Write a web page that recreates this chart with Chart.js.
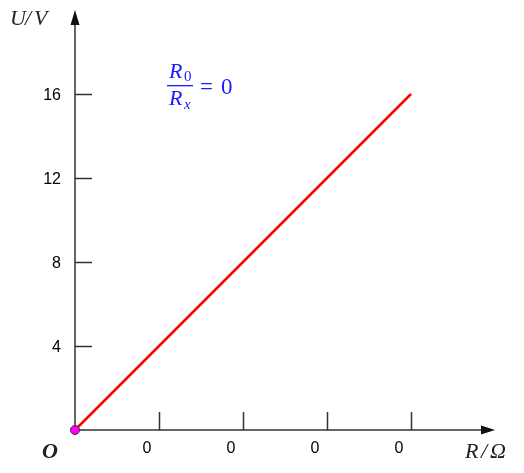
<!DOCTYPE html>
<html>
<head>
<meta charset="utf-8">
<script src="https://cdn.jsdelivr.net/npm/chart.js@4.4.1/dist/chart.umd.min.js"></script>
<style>
  html, body { margin: 0; padding: 0; background: #fff; }
  #wrap { width: 524px; height: 473px; }
</style>
</head>
<body>
<div id="wrap"><canvas id="chart"></canvas></div>
<script>
// values
const lineX = [0, 4];
const lineY = [0, 16];
const originPoint = [0, 0];
const xTickValues = [1, 2, 3, 4];
const xTickLabels = ["0", "0", "0", "0"];
const yTickValues = [4, 8, 12, 16];
const yTickLabels = ["4", "8", "12", "16"];

const axisColor = "#333";

// draws the arrow axes, inner ticks and all the texts
const axesPlugin = {
  id: "axes",
  beforeDatasetsDraw(chart) {
    const ctx = chart.ctx;
    const xs = chart.scales.x;
    const ys = chart.scales.y;
    const ox = xs.getPixelForValue(0);
    const oy = ys.getPixelForValue(0);
    const xEnd = xs.getPixelForValue(xs.max);
    const yEnd = ys.getPixelForValue(ys.max);

    ctx.save();
    ctx.strokeStyle = axisColor;
    ctx.fillStyle = axisColor;
    ctx.lineWidth = 1.5;

    // axes
    ctx.beginPath();
    ctx.moveTo(ox, oy);
    ctx.lineTo(xEnd - 10, oy);
    ctx.moveTo(ox, oy);
    ctx.lineTo(ox, yEnd + 10);
    ctx.stroke();

    // arrow heads
    ctx.fillStyle = "#111";
    ctx.beginPath();
    ctx.moveTo(xEnd, oy);
    ctx.lineTo(xEnd - 14, oy - 4.5);
    ctx.lineTo(xEnd - 14, oy + 4.5);
    ctx.closePath();
    ctx.fill();
    ctx.beginPath();
    ctx.moveTo(ox, yEnd);
    ctx.lineTo(ox - 4.5, yEnd + 15);
    ctx.lineTo(ox + 4.5, yEnd + 15);
    ctx.closePath();
    ctx.fill();

    // ticks
    ctx.lineWidth = 1.5;
    ctx.beginPath();
    xTickValues.forEach((v) => {
      const px = Math.round(xs.getPixelForValue(v)) + 0.5;
      ctx.moveTo(px, oy);
      ctx.lineTo(px, oy - 18);
    });
    yTickValues.forEach((v) => {
      const py = Math.round(ys.getPixelForValue(v)) + 0.5;
      ctx.moveTo(ox, py);
      ctx.lineTo(ox + 17, py);
    });
    ctx.stroke();

    // tick labels
    ctx.fillStyle = "#000";
    ctx.font = "16px 'Liberation Sans', Arial, sans-serif";
    ctx.textBaseline = "middle";
    ctx.textAlign = "center";
    xTickValues.forEach((v, i) => {
      ctx.fillText(xTickLabels[i], xs.getPixelForValue(v) - 12, oy + 19);
    });
    ctx.textAlign = "right";
    yTickValues.forEach((v, i) => {
      ctx.fillText(yTickLabels[i], ox - 14, ys.getPixelForValue(v) + 2);
    });

    // axis titles
    ctx.textBaseline = "alphabetic";
    ctx.textAlign = "left";
    ctx.fillStyle = "#222";
    ctx.font = "italic 22px 'Liberation Serif', 'DejaVu Serif', serif";
    ctx.fillText("U", 10, 25);
    ctx.fillText("/", 25, 25);
    ctx.fillText("V", 34, 25);
    ctx.fillText("R", 465, 458);
    ctx.fillText("/", 481, 458);
    ctx.fillText("\u03A9", 490, 458);
    ctx.font = "bold italic 22px 'Liberation Serif', 'DejaVu Serif', serif";
    ctx.fillText("O", 42, 458);

    // formula R0 / Rx = 0
    ctx.fillStyle = "#1a1aff";
    ctx.font = "italic 22px 'Liberation Serif', 'DejaVu Serif', serif";
    ctx.fillText("R", 169, 78);
    ctx.fillText("R", 169, 105);
    ctx.font = "15px 'Liberation Serif', 'DejaVu Serif', serif";
    ctx.fillText("0", 184, 81);
    ctx.font = "italic 15px 'Liberation Serif', 'DejaVu Serif', serif";
    ctx.fillText("x", 184, 109);
    ctx.fillRect(167, 85, 26, 1.3);
    ctx.font = "23px 'Liberation Serif', 'DejaVu Serif', serif";
    ctx.fillText("=", 200, 94);
    ctx.fillText("0", 221, 94);
    ctx.restore();
  },
};

const chartData = {
  datasets: [
    {
      label: "U",
      data: lineX.map((x, i) => ({ x: x, y: lineY[i] })),
      borderColor: "#ff0000",
      borderWidth: 2.5,
      pointRadius: 0,
      showLine: true,
      order: 2,
    },
    {
      label: "O",
      data: [{ x: originPoint[0], y: originPoint[1] }],
      pointRadius: 4.5,
      pointBackgroundColor: "#ff00ff",
      pointBorderColor: "#333",
      pointBorderWidth: 1,
      order: 1,
    },
  ],
};

const chartConfig = {
  type: "scatter",
  data: chartData,
  options: {
    responsive: true,
    maintainAspectRatio: false,
    animation: false,
    clip: false,
    layout: {
      padding: { left: 75, right: 29, top: 10, bottom: 43 },
    },
    plugins: {
      legend: { display: false },
      tooltip: { enabled: false },
    },
    scales: {
      x: { type: "linear", min: 0, max: 5, display: false },
      y: { type: "linear", min: 0, max: 20, display: false },
    },
  },
  plugins: [axesPlugin],
};

const chart = new Chart(document.getElementById("chart"), chartConfig);
</script>
</body>
</html>
